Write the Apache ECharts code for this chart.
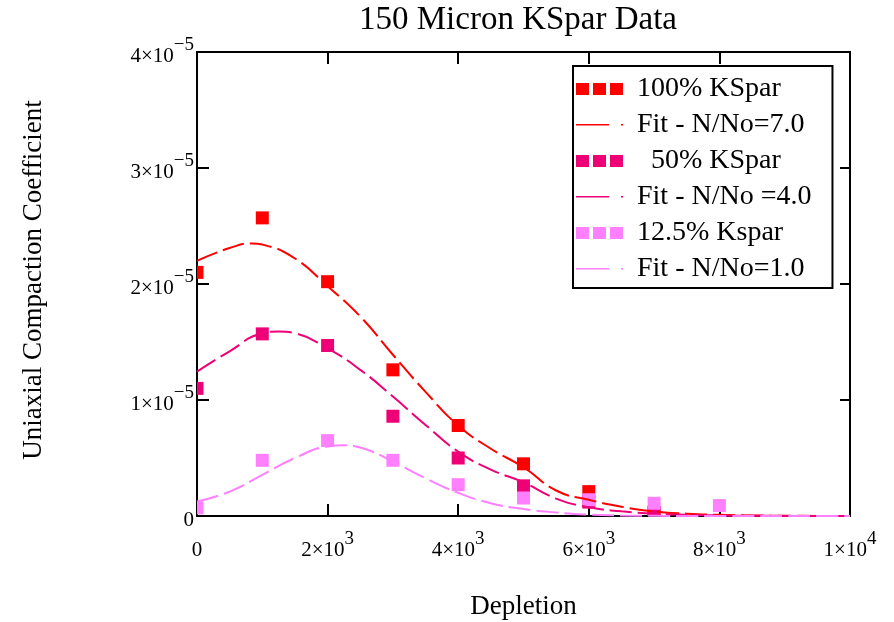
<!DOCTYPE html>
<html><head><meta charset="utf-8">
<script src="https://cdn.jsdelivr.net/npm/echarts@6/dist/echarts.min.js"></script>
<style>html,body{margin:0;padding:0;background:#fff}#c{width:894px;height:622px}</style>
</head><body><div id="c"></div>
<script>
// measured data points
const depletion = [0, 1000, 2000, 3000, 4000, 5000, 6000, 7000];
const depletion125 = [0, 1000, 2000, 3000, 4000, 5000, 6000, 7000, 8000];
const kspar100 = [2.10e-5, 2.57e-5, 2.02e-5, 1.26e-5, 0.78e-5, 0.45e-5, 0.21e-5, 0.03e-5];
const kspar50 = [1.10e-5, 1.57e-5, 1.47e-5, 0.86e-5, 0.50e-5, 0.26e-5, 0.12e-5, 0.03e-5];
const kspar125 = [0.07e-5, 0.48e-5, 0.65e-5, 0.48e-5, 0.27e-5, 0.155e-5, 0.14e-5, 0.11e-5, 0.09e-5];
// fit curves
const fit70X = [0,500,850,1000,1500,2000,2500,3000,3500,4000,4500,5000,5500,6000,6500,7000,7500,8000,8500,9000,9500,10000];
const fit70 = [2.20e-5,2.31e-5,2.35e-5,2.34e-5,2.22e-5,1.98e-5,1.72e-5,1.39e-5,1.07e-5,0.78e-5,0.58e-5,0.42e-5,0.22e-5,0.14e-5,0.08e-5,0.04e-5,0.02e-5,0.01e-5,0.005e-5,0.002e-5,0.001e-5,0];
const fit40X = [0,500,1000,1250,1500,2000,2500,3000,3500,4000,4500,5000,5500,6000,6500,7000,7500,8000,8500,9000,9500,10000];
const fit40 = [1.245e-5,1.42e-5,1.575e-5,1.59e-5,1.575e-5,1.445e-5,1.26e-5,1.03e-5,0.785e-5,0.555e-5,0.40e-5,0.29e-5,0.15e-5,0.075e-5,0.04e-5,0.02e-5,0.01e-5,0.005e-5,0.002e-5,0.001e-5,0,0];
const fit10X = [0,500,1000,1500,2000,2250,2500,3000,3500,4000,4500,5000,5500,6000,6500,7000,7500,8000,8500,9000,9500,10000];
const fit10 = [0.125e-5,0.21e-5,0.355e-5,0.50e-5,0.60e-5,0.61e-5,0.59e-5,0.47e-5,0.325e-5,0.20e-5,0.11e-5,0.06e-5,0.03e-5,0.012e-5,0.005e-5,0.002e-5,0,0,0,0,0,0];
const names = ['100% KSpar', 'Fit - N/No=7.0', '  50% KSpar', 'Fit - N/No =4.0', '12.5% Kspar', 'Fit - N/No=1.0'];
const colors = ['#FF0000', '#EE0077', '#FF80FF'];
const yTicks = [0, 1e-5, 2e-5, 3e-5, 4e-5];
const xTicks = [0, 2000, 4000, 6000, 8000, 10000];

const FONT = 'Liberation Serif';
const pair = (xs, ys) => xs.map((x, i) => [x, ys[i]]);
const sqIcon = 'path://M0 0M56 14M0 1h13v12h-13zM17 1h13v12h-13zM34 1h13v12h-13z';
const lnIcon = 'path://M0 0M56 14M0 6h33v1.6h-33zM45 6h2v1.6h-2z';

function expLabel(v) {
  if (v === 0) return '{z|0}';
  const exp = Math.floor(Math.log10(Math.abs(v)) + 1e-9);
  const m = Math.round(v / Math.pow(10, exp));
  const es = exp < 0 ? '\u2212' + (-exp) : String(exp);
  return '{a|' + m + '\u00d710}{s|' + es + '}';
}
const rich = {
  a: {fontFamily: FONT, fontSize: 21, color: '#000', padding: [8, 0, 0, 0]},
  s: {fontFamily: FONT, fontSize: 19, color: '#000', padding: [0, 0, 14, 0]},
  z: {fontFamily: FONT, fontSize: 21, color: '#000', padding: [10, 0, 2, 0]}
};

function squareItem(params, api) {
  const p = api.coord([api.value(0), api.value(1)]);
  return {type: 'rect', shape: {x: p[0] - 6.5, y: p[1] - 6.5, width: 13, height: 13},
          style: {fill: api.visual('color')}};
}

const chart = echarts.init(document.getElementById('c'), null, {renderer: 'canvas'});
const axisLine = {show: true, onZero: false, lineStyle: {color: '#000', width: 2}};
chart.setOption({
  animation: false,
  backgroundColor: '#fff',
  title: {
    text: '150 Micron KSpar Data', left: 359, top: 4, padding: 0,
    textStyle: {fontFamily: FONT, fontSize: 33, fontWeight: 'normal', color: '#000'}
  },
  grid: {left: 197, right: 44, top: 52, bottom: 106, containLabel: false, outerBoundsMode: 'none'},
  legend: {
    orient: 'vertical', left: 573, top: 66,
    padding: [8, 21, 4, 3], itemGap: 6, itemWidth: 56, itemHeight: 14,
    backgroundColor: '#fff', borderColor: '#000', borderWidth: 2,
    itemStyle: {borderWidth: 0},
    textStyle: {fontFamily: FONT, fontSize: 28, color: '#000', lineHeight: 30},
    data: [
      {name: names[0], icon: sqIcon}, {name: names[1], icon: lnIcon},
      {name: names[2], icon: sqIcon}, {name: names[3], icon: lnIcon},
      {name: names[4], icon: sqIcon}, {name: names[5], icon: lnIcon}
    ]
  },
  xAxis: [{
    type: 'value', min: xTicks[0], max: xTicks[xTicks.length - 1], interval: 2000,
    name: 'Depletion', nameLocation: 'middle', nameGap: 77,
    nameTextStyle: {fontFamily: FONT, fontSize: 27, color: '#000'},
    axisLine: axisLine, splitLine: {show: false},
    axisTick: {inside: true, length: 12, lineStyle: {color: '#000', width: 2}},
    axisLabel: {margin: 14, formatter: v => expLabel(v), rich: rich}
  }, {
    type: 'value', position: 'top', min: xTicks[0], max: xTicks[xTicks.length - 1], interval: 2000,
    axisLine: axisLine, splitLine: {show: false},
    axisTick: {inside: true, length: 12, lineStyle: {color: '#000', width: 2}},
    axisLabel: {show: false}
  }],
  yAxis: [{
    type: 'value', min: yTicks[0], max: yTicks[yTicks.length - 1], interval: 1e-5,
    name: 'Uniaxial Compaction Coefficient', nameLocation: 'middle', nameGap: 150,
    nameTextStyle: {fontFamily: FONT, fontSize: 27, color: '#000', padding: [0, 0, 0, 8]},
    axisLine: axisLine, splitLine: {show: false},
    axisTick: {inside: true, length: 12, lineStyle: {color: '#000', width: 2}},
    axisLabel: {margin: 3, formatter: v => expLabel(v), rich: rich}
  }, {
    type: 'value', position: 'right', min: yTicks[0], max: yTicks[yTicks.length - 1], interval: 1e-5,
    axisLine: axisLine, splitLine: {show: false},
    axisTick: {inside: true, length: 10, lineStyle: {color: '#000', width: 2}},
    axisLabel: {show: false}
  }],
  series: [
    {name: names[0], type: 'custom', clip: true, renderItem: squareItem, encode: {x: 0, y: 1}, data: pair(depletion, kspar100), itemStyle: {color: colors[0]}},
    {name: names[1], type: 'line', smooth: true, showSymbol: false, symbol: 'none', data: pair(fit70X, fit70), itemStyle: {color: colors[0]}, lineStyle: {color: colors[0], width: 2, type: [22, 6]}},
    {name: names[2], type: 'custom', clip: true, renderItem: squareItem, encode: {x: 0, y: 1}, data: pair(depletion, kspar50), itemStyle: {color: colors[1]}},
    {name: names[3], type: 'line', smooth: true, showSymbol: false, symbol: 'none', data: pair(fit40X, fit40), itemStyle: {color: colors[1]}, lineStyle: {color: colors[1], width: 2, type: [22, 6]}},
    {name: names[4], type: 'custom', clip: true, renderItem: squareItem, encode: {x: 0, y: 1}, data: pair(depletion125, kspar125), itemStyle: {color: colors[2]}},
    {name: names[5], type: 'line', smooth: true, showSymbol: false, symbol: 'none', data: pair(fit10X, fit10), itemStyle: {color: colors[2]}, lineStyle: {color: colors[2], width: 2, type: [22, 6]}}
  ]
});
</script></body></html>
